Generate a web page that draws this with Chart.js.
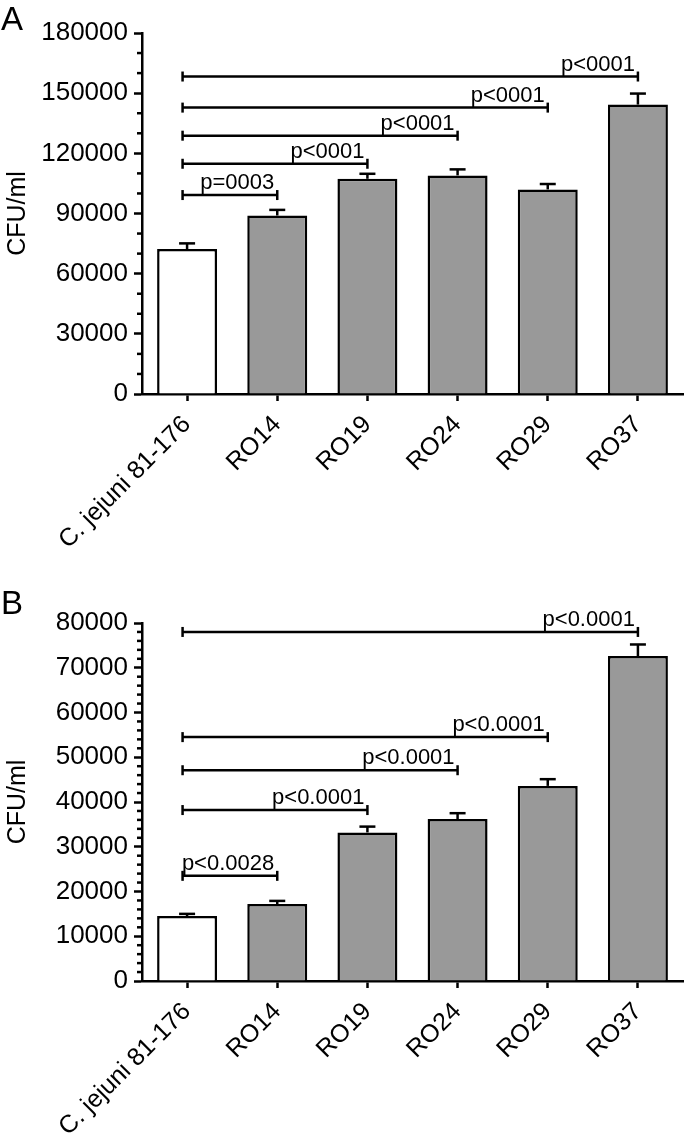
<!DOCTYPE html>
<html>
<head>
<meta charset="utf-8">
<script src="https://cdn.jsdelivr.net/npm/chart.js@4.4.1/dist/chart.umd.min.js"></script>
<style>
  body { margin: 0; background: #fff; }
  #wrap { position: relative; width: 685px; height: 1139px; overflow: hidden; }
  canvas { position: absolute; left: 0; }
  .panel { position: absolute; left: 1px; font: 33px "Liberation Sans", Arial, sans-serif; line-height: 33px; }
</style>
</head>
<body>
<div id="wrap">
  <canvas id="chartA" width="685" height="570" style="top:0"></canvas>
  <canvas id="chartB" width="685" height="569" style="top:570px"></canvas>
  <div class="panel" style="top:2px">A</div>
  <div class="panel" style="top:586px">B</div>
</div>
<script>
const strains = ["C. jejuni 81-176", "RO14", "RO19", "RO24", "RO29", "RO37"];
const barColors = ["#ffffff", "#999999", "#999999", "#999999", "#999999", "#999999"];

// panel A
const cfuA = [72300, 89000, 107300, 109000, 102000, 144300];
const semA = [2800, 2800, 2500, 3000, 2700, 5500];
const sigEndA = [1, 2, 3, 4, 5];
const sigYA = [99200, 114800, 128800, 142800, 158300];
const sigTextA = ["p=0003", "p<0001", "p<0001", "p<0001", "p<0001"];

// panel B
const cfuB = [14500, 17200, 33200, 36200, 43600, 72600];
const semB = [500, 700, 1300, 1300, 1500, 2600];
const sigEndB = [1, 2, 3, 4, 5];
const sigYB = [23500, 38200, 47100, 54500, 78000];
const sigTextB = ["p<0.0028", "p<0.0001", "p<0.0001", "p<0.0001", "p<0.0001"];

Chart.defaults.font.family = '"Liberation Sans", Arial, sans-serif';
Chart.defaults.color = "#000";

function seg(ctx, x1, y1, x2, y2) {
  ctx.beginPath();
  ctx.moveTo(x1, y1);
  ctx.lineTo(x2, y2);
  ctx.stroke();
}

// error bars, significance brackets, minor y ticks
const extras = {
  id: "extras",
  afterDatasetsDraw(chart, args, opts) {
    const ctx = chart.ctx;
    const x = chart.scales.x, y = chart.scales.y;
    const left = chart.chartArea.left;
    ctx.save();
    ctx.strokeStyle = "#000";
    ctx.lineWidth = 2.5;

    y.ticks.forEach(t => {
      if (t.value % opts.labelStep === 0) return;
      const py = y.getPixelForValue(t.value);
      seg(ctx, left - 5, py, left, py);
    });

    opts.values.forEach((v, i) => {
      const px = x.getPixelForValue(i);
      const top = y.getPixelForValue(v + opts.err[i]);
      seg(ctx, px, y.getPixelForValue(v), px, top);
      seg(ctx, px - 8, top, px + 8, top);
    });

    ctx.font = "22px " + Chart.defaults.font.family;
    ctx.fillStyle = "#000";
    ctx.textAlign = "right";
    ctx.textBaseline = "alphabetic";
    opts.sigY.forEach((v, i) => {
      const py = y.getPixelForValue(v);
      const x1 = x.getPixelForValue(-0.05);
      const x2 = x.getPixelForValue(opts.sigEnd[i]);
      seg(ctx, x1, py, x2, py);
      seg(ctx, x1, py - 5, x1, py + 5);
      seg(ctx, x2, py - 5, x2, py + 5);
      ctx.fillText(opts.sigText[i], x2 - 3, py - 6);
    });
    ctx.restore();
  }
};

function makeChart(id, values, err, sigY, sigEnd, sigText, yMax, step, labelStep, topPad, xHeight) {
  return new Chart(document.getElementById(id), {
    type: "bar",
    data: {
      labels: strains,
      datasets: [{
        data: values,
        backgroundColor: barColors,
        borderColor: "#000",
        borderWidth: 2.5,
        barPercentage: 0.665,
        categoryPercentage: 1
      }]
    },
    options: {
      responsive: false,
      animation: false,
      layout: { padding: { top: topPad, right: 2, left: 0, bottom: 0 } },
      plugins: {
        legend: { display: false },
        tooltip: { enabled: false },
        extras: { values: values, err: err, sigY: sigY, sigEnd: sigEnd, sigText: sigText, labelStep: labelStep }
      },
      scales: {
        x: {
          grid: { offset: false, drawOnChartArea: false, tickLength: 7, tickWidth: 2.5, tickColor: "#000" },
          border: { color: "#000", width: 2.5 },
          ticks: { font: { size: 25 }, color: "#000", minRotation: 45, maxRotation: 45, padding: 9, autoSkip: false },
          afterFit: s => { s.height = xHeight; }
        },
        y: {
          min: 0,
          max: yMax,
          grid: {
            drawOnChartArea: false,
            tickLength: 8,
            tickWidth: 2.5,
            tickColor: c => (c.tick && c.tick.value % labelStep === 0) ? "#000" : "rgba(0,0,0,0)"
          },
          border: { color: "#000", width: 2.5 },
          ticks: {
            stepSize: step,
            autoSkip: false,
            font: { size: 26 },
            color: "#000",
            padding: 6,
            callback: v => (v % labelStep === 0 ? v : "")
          },
          title: { display: true, text: "CFU/ml", font: { size: 25 }, color: "#000", padding: { top: 3, bottom: 0 } },
          afterFit: s => { s.width = 142; }
        }
      }
    },
    plugins: [extras]
  });
}

makeChart("chartA", cfuA, semA, sigYA, sigEndA, sigTextA, 180000, 10000, 30000, 33, 176);
makeChart("chartB", cfuB, semB, sigYB, sigEndB, sigTextB, 80000, 2000, 10000, 53, 158);
</script>
</body>
</html>
